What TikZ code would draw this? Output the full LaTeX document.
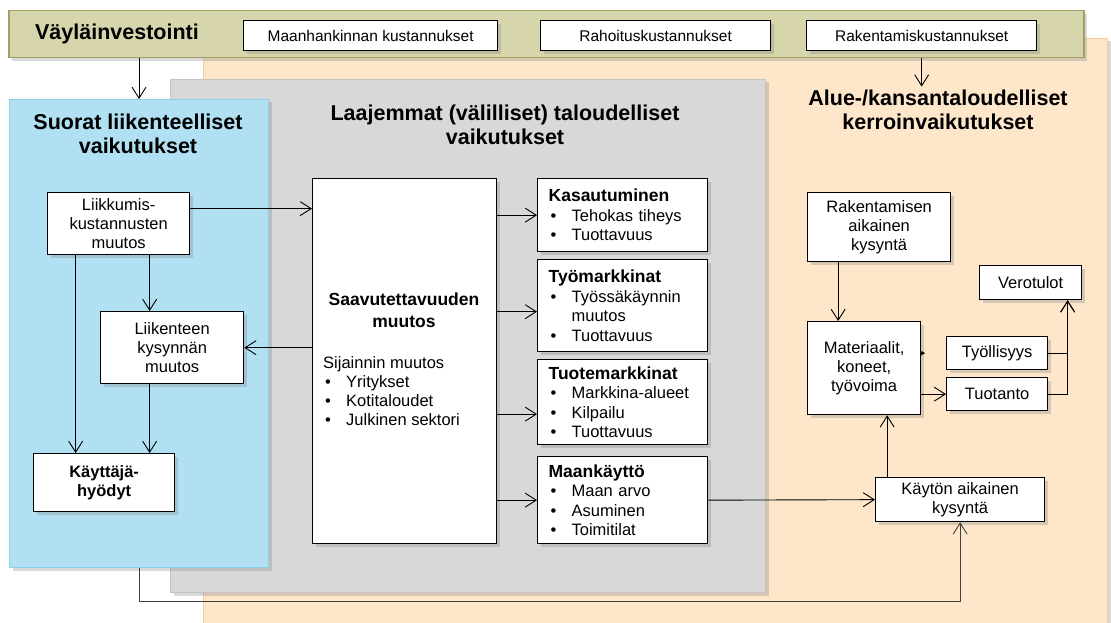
\documentclass[tikz,border=0pt]{standalone}
\usepackage{fontspec}
\setmainfont{Liberation Sans}
\usetikzlibrary{shadows,arrows.meta}

\definecolor{barfill}{RGB}{214,213,172}
\definecolor{barline}{RGB}{160,160,100}
\definecolor{peach}{RGB}{253,230,201}
\definecolor{peachline}{RGB}{247,203,156}
\definecolor{panelgray}{RGB}{216,216,216}
\definecolor{grayline}{RGB}{196,196,196}
\definecolor{skyblue}{RGB}{176,224,242}
\definecolor{skyline}{RGB}{140,208,236}

\newcommand{\fsz}[2]{\fontsize{#1}{#2}\selectfont}
\newcommand{\blt}[1]{\hspace*{2pt}\makebox[21pt][l]{\textbullet}#1}
\newcommand{\boxtitle}[1]{{\bfseries\fsz{17.5}{19.5}#1}}

\begin{document}
\begin{tikzpicture}[x=1pt,y=-1pt,
    dshadow/.style={drop shadow={shadow xshift=3pt,shadow yshift=-3pt,opacity=0.3}},
    panel/.style={dshadow,anchor=north west,inner sep=0pt,line width=1pt},
    box/.style={draw=black,line width=1.3pt,fill=white,dshadow,anchor=north west,inner sep=0pt,align=center,font=\fsz{16.5}{19}},
    barbox/.style={box,font=\fsz{15.5}{18}},
    listbox/.style={box,align=left,inner xsep=11pt,text width=148pt,font=\fsz{16.5}{19.5}},
    head/.style={align=center,font=\bfseries\fsz{21.5}{24}},
    arr/.style={line width=0.9pt,-{Straight Barb[length=11pt,width=14pt]}}]

  \useasboundingbox (0,0) rectangle (1111,623);

  \node (orange) [panel,draw=peachline,fill=peach,minimum width=904pt,minimum height=600pt] at (203,38) {};
  \node (bar) [panel,draw=barline,line width=1.5pt,fill=barfill,minimum width=1075pt,minimum height=47pt] at (8,10) {};
  \node (gray) [panel,draw=grayline,fill=panelgray,minimum width=595pt,minimum height=513pt] at (170,79) {};
  \node (blue) [panel,draw=skyline,fill=skyblue,minimum width=259pt,minimum height=468pt] at (9,99) {};

  \node (vayla) [font=\bfseries\fsz{21.5}{24}] at (117,34) {Väyläinvestointi};
  \node (maan) [barbox,minimum width=254pt,minimum height=30pt] at (243,20) {Maanhankinnan kustannukset};
  \node (rahoitus) [barbox,minimum width=230pt,minimum height=30pt] at (540,20) {Rahoituskustannukset};
  \node (rakkust) [barbox,minimum width=230pt,minimum height=30pt] at (806,20) {Rakentamiskustannukset};

  \node (suorat) [head] at (138,134) {Suorat liikenteelliset\\vaikutukset};
  \node (laaja) [head] at (505,125) {Laajemmat (välilliset) taloudelliset\\vaikutukset};
  \node (alue) [head] at (938,110) {Alue-/kansantaloudelliset\\kerroinvaikutukset};

  \node (liikk) [box,minimum width=142pt,minimum height=62pt] at (47,192) {Liikkumis-\\kustannusten\\muutos};
  \node (liikys) [box,minimum width=143pt,minimum height=72pt] at (100,311) {Liikenteen\\kysynnän\\muutos};
  \node (kaytt) [box,font=\bfseries\fsz{16.5}{19},minimum width=141pt,minimum height=58pt] at (33,453) {Käyttäjä-\\hyödyt};

  \node (saav) [box,minimum width=184pt,minimum height=365pt] at (312,178) {};
  \node (saavhead) [font=\bfseries\fsz{17.5}{22},align=center] at (404,310) {Saavutettavuuden\\muutos};
  \node (sijainti) [anchor=north west,inner sep=0pt,align=left,font=\fsz{16.5}{19}] at (323,356)
    {Sijainnin muutos\\\blt{Yritykset}\\\blt{Kotitaloudet}\\\blt{Julkinen sektori}};

  \node (kas) [listbox,minimum width=170pt,minimum height=73pt] at (537,178)
    {\boxtitle{Kasautuminen}\\\blt{Tehokas tiheys}\\\blt{Tuottavuus}};
  \node (tyom) [listbox,minimum width=170pt,minimum height=92pt] at (537,259)
    {\boxtitle{Työmarkkinat}\\\blt{Työssäkäynnin}\\\hspace*{23pt}muutos\\\blt{Tuottavuus}};
  \node (tuote) [listbox,minimum width=170pt,minimum height=85pt] at (537,359)
    {\boxtitle{Tuotemarkkinat}\\\blt{Markkina-alueet}\\\blt{Kilpailu}\\\blt{Tuottavuus}};
  \node (maank) [listbox,minimum width=170pt,minimum height=87pt] at (537,456)
    {\boxtitle{Maankäyttö}\\\blt{Maan arvo}\\\blt{Asuminen}\\\blt{Toimitilat}};

  \node (rak) [box,minimum width=143pt,minimum height=69pt] at (807,192) {Rakentamisen\\aikainen\\kysyntä};
  \node (mat) [box,minimum width=113pt,minimum height=93pt] at (807,321) {Materiaalit,\\koneet,\\työvoima};
  \node (vero) [box,minimum width=102pt,minimum height=34pt] at (979,265) {Verotulot};
  \node (tyol) [box,minimum width=101pt,minimum height=33pt] at (946,336) {Työllisyys};
  \node (tuot) [box,minimum width=101pt,minimum height=33pt] at (946,377) {Tuotanto};
  \node (kayton) [box,minimum width=169pt,minimum height=44pt] at (875,477) {Käytön aikainen\\kysyntä};

  \coordinate (liikout) at ([yshift=15pt]liikk.east);
  \coordinate (liikl) at ([xshift=-43pt]liikk.south);
  \coordinate (liikr) at ([xshift=31pt]liikk.south);
  \coordinate (tyomin) at ([yshift=-6pt]tyom.west);
  \coordinate (tuotein) at ([yshift=-12pt]tuote.west);
  \coordinate (rakdrop) at ([xshift=-26pt]mat.north);
  \coordinate (matin) at ([xshift=23pt]mat.south);
  \coordinate (veroin) at ([xshift=37pt]vero.south);

  \draw[arr] (bar.south -| blue.north) -- (blue.north);
  \draw[arr] (bar.south -| rakkust.south) -- (alue.north -| rakkust.south);

  \draw[arr] (liikout) -- (liikout -| saav.west);
  \draw[arr] (saav.west |- liikys.east) -- (liikys.east);
  \draw[arr] (liikr) -- (liikr |- liikys.north);
  \draw[arr] (liikl) -- (liikl |- kaytt.north);
  \draw[arr] (liikr |- liikys.south) -- (liikr |- kaytt.north);

  \draw[arr] (saav.east |- kas.west) -- (kas.west);
  \draw[arr] (saav.east |- tyomin) -- (tyomin);
  \draw[arr] (saav.east |- tuotein) -- (tuotein);
  \draw[arr] (saav.east |- maank.west) -- (maank.west);
  \draw[arr] (maank.east) -- (kayton.west);

  \draw[arr] (rakdrop |- rak.south) -- (rakdrop);
  \draw[line width=0.9pt,-{Latex[length=4pt,width=5pt]}] (mat.east |- tyol.west) -- ++(4,0);
  \draw[arr] (mat.east |- tuot.west) -- (tuot.west);
  \draw[arr] (tyol.east) -| (veroin);
  \draw[arr] (tuot.east) -| (veroin);
  \draw[arr] (matin |- kayton.north) -- (matin);

  \draw[arr,black!75] (blue.south) -- ++(0,33) -| (kayton.south);
\end{tikzpicture}
\end{document}
